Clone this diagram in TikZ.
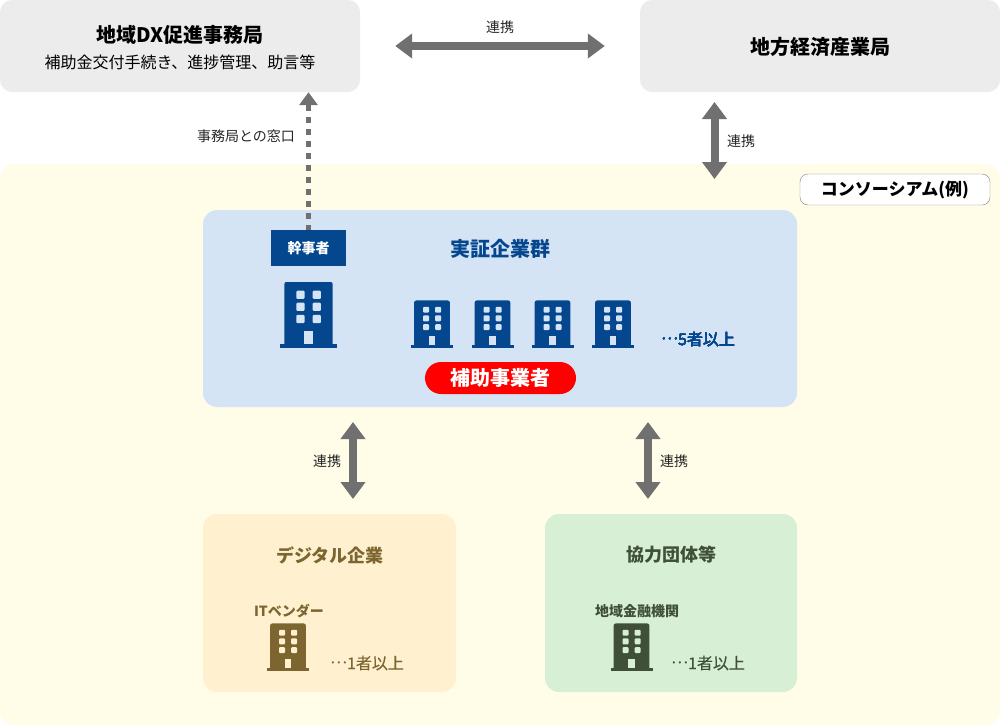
\documentclass[tikz,border=0pt]{standalone}
\usepackage{fontspec}
\setmainfont{Noto Sans CJK JP}
\newfontfamily\countfont[FakeBold=0.25]{Noto Sans CJK JP}
\usetikzlibrary{arrows.meta}
\definecolor{officegray}{HTML}{ECECEC}
\definecolor{creambg}{HTML}{FFFDE8}
\definecolor{paleblue}{HTML}{D5E4F5}
\definecolor{navyblue}{HTML}{04478F}
\definecolor{paleyellow}{HTML}{FFF1D0}
\definecolor{darkbrown}{HTML}{7D6530}
\definecolor{palegreen}{HTML}{D7F0D5}
\definecolor{darkgreen}{HTML}{3F4F38}
\definecolor{arrowgray}{HTML}{707070}
\newcommand{\fs}[1]{\fontsize{#1}{#1}\selectfont}
\newcommand{\middots}{\raisebox{0.36em}{…}}
% x, y of the foot, xscale, yscale, colour, colour of the windows
\newcommand{\officeicon}[6]{
    \begin{scope}[shift={(#1,#2)},xscale=#3,yscale=#4]
        \fill[#5] (-28.5,-4) rectangle (28.5,0);
        \fill[#5,rounded corners=2pt] (-24.2,-2) -- (-24.2,-66) -- (24.2,-66) -- (24.2,-2) -- cycle;
        \foreach \wx in {-12.2,4.2}
            \foreach \wy in {-57.3,-45.3,-33.1}
                \fill[#6,rounded corners=1pt] (\wx,\wy) rectangle ++(8.2,8.2);
        \fill[#6] (-4.2,-17) rectangle (4.2,-4.5);
    \end{scope}
}
\tikzset{
    office/.style={fill=officegray,rounded corners=12pt,minimum width=360pt,minimum height=92pt,inner sep=0pt},
    panel/.style={rounded corners=14pt,inner sep=0pt},
    twoway/.style={arrowgray,line width=8pt,{Triangle[width=24pt,length=17pt]}-{Triangle[width=24pt,length=17pt]}},
    linklabel/.style={font=\fs{14},inner sep=0pt,black!85},
    title/.style={font=\fs{20}\bfseries,inner sep=0pt},
    count/.style={font=\fs{16}\countfont,inner sep=0pt}
}
\begin{document}
\begin{tikzpicture}[x=1pt,y=-1pt]
    \useasboundingbox (0,0) rectangle (1000,726);
    \node[panel,fill=creambg,minimum width=1000pt,minimum height=561pt] (consortium) at (500,444.5) {};
    \node[office] (dxoffice) at (180,46) {};
    \node[office] (metioffice) at (820,46) {};
    \node[title] (dxtitle) at (180,35) {地域DX促進事務局};
    \node[font=\fs{16},inner sep=0pt] (dxsub) at (180,62) {補助金交付手続き、進捗管理、助言等};
    \node[title] (metititle) at (820,47) {地方経済産業局};
    \node[draw=black!50,fill=white,rounded corners=8pt,minimum width=190pt,minimum height=31pt,inner sep=0pt,font=\fs{17}\bfseries] (consortiumtag) at (895,189.5) {コンソーシアム(例)};

    \node[panel,fill=paleblue,minimum width=594pt,minimum height=197pt] (trial) at (500,308.5) {};
    \node[title,navyblue] (trialtitle) at (500,249) {実証企業群};
    \node[fill=navyblue,text=white,minimum width=75pt,minimum height=36pt,inner sep=0pt,font=\fs{14}\bfseries] (leader) at (308.5,248) {幹事者};
    \officeicon{308.5}{348}{1}{1}{navyblue}{paleblue}
    \foreach \bx in {432,492.5,552.5,613}
        \officeicon{\bx}{348}{0.737}{0.72}{navyblue}{paleblue}
    \node[count,navyblue] (trialcount) at (698,339) {\middots 5者以上};
    \node[fill=red,text=white,rounded corners=16pt,minimum width=151pt,minimum height=32pt,inner sep=0pt,font=\fs{20}\bfseries] (subsidy) at (500.5,378) {補助事業者};

    \node[panel,fill=paleyellow,minimum width=253pt,minimum height=178pt] (digital) at (329.5,603) {};
    \node[title,darkbrown,font=\fs{18}\bfseries] (digitaltitle) at (330,555) {デジタル企業};
    \node[darkbrown,font=\fs{14}\bfseries,inner sep=0pt] (vendor) at (289,611) {ITベンダー};
    \officeicon{288}{671}{0.737}{0.72}{darkbrown}{paleyellow}
    \node[count,darkbrown] (digitalcount) at (367,663) {\middots 1者以上};

    \node[panel,fill=palegreen,minimum width=252pt,minimum height=178pt] (partner) at (671,603) {};
    \node[title,darkgreen,font=\fs{18}\bfseries] (partnertitle) at (671,555) {協力団体等};
    \node[darkgreen,font=\fs{14}\bfseries,inner sep=0pt] (bank) at (637,611) {地域金融機関};
    \officeicon{631.5}{671}{0.737}{0.72}{darkgreen}{palegreen}
    \node[count,darkgreen] (partnercount) at (708,663) {\middots 1者以上};

    \coordinate (metitop) at (714.5,102);
    \coordinate (metibottom) at (714.5,179);
    \coordinate (digitaltop) at (353,422);
    \coordinate (digitalbottom) at (353,499);
    \coordinate (partnertop) at (648,422);
    \coordinate (partnerbottom) at (648,499);

    \draw[twoway,shorten <=35pt,shorten >=35pt] (dxoffice.east) -- (metioffice.west);
    \draw[twoway] (metitop) -- (metibottom);
    \draw[twoway] (digitaltop) -- (digitalbottom);
    \draw[twoway] (partnertop) -- (partnerbottom);
    \draw[arrowgray,line width=4.5pt,dash pattern=on 6pt off 6pt,dash phase=1pt,-{Triangle[width=18pt,length=13pt]}] (leader.north) -- (leader.north |- dxoffice.south);

    \node[linklabel] (toplink) at (500,27) {連携};
    \node[linklabel] (metilink) at (741,141) {連携};
    \node[linklabel] (digitallink) at (327,461) {連携};
    \node[linklabel] (partnerlink) at (674,461) {連携};
    \node[linklabel] (contact) at (246,136) {事務局との窓口};
\end{tikzpicture}
\end{document}
